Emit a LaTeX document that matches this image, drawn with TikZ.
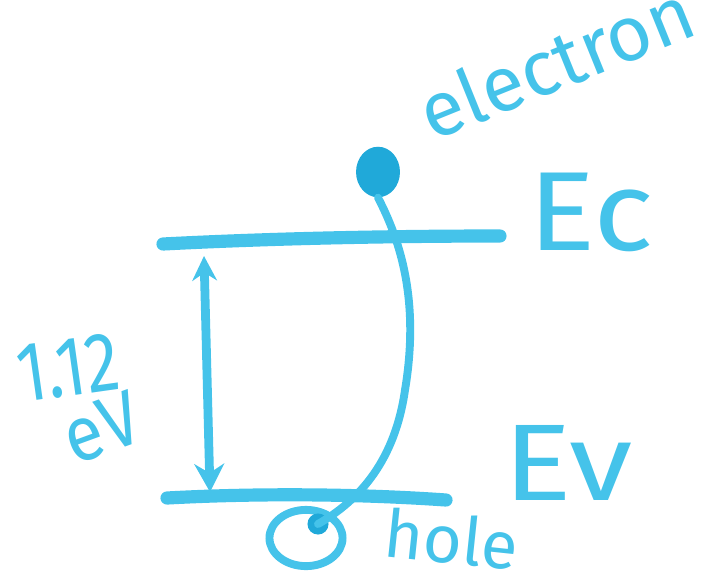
\documentclass[tikz,border=0pt]{standalone}
\usepackage{fontspec}
\setmainfont{Fira Sans}
\usetikzlibrary{arrows.meta}
\definecolor{marker}{HTML}{45C3EA}
\definecolor{markerdark}{HTML}{20A9D9}
\tikzset{
  level/.style={draw=marker, line width=7.5pt, line cap=round},
  pen/.style={draw=marker, line width=5pt, line cap=round},
  lbl/.style={text=marker, inner sep=0pt},
}
\begin{document}
\begin{tikzpicture}[x=0.02cm,y=-0.02cm]
\useasboundingbox (0,0) rectangle (722,571);
\clip (0,0) rectangle (722,571);
% levels
\coordinate (ecL) at (163,244);
\coordinate (ecR) at (500,236);
\coordinate (evL) at (167,498);
\coordinate (evR) at (446,500);
\draw[level] (ecL) .. controls (280,238) and (400,236) .. (ecR);
\draw[level] (evL) .. controls (260,493) and (360,494) .. (evR);
% labels
\node[lbl, font=\fontsize{64}{64}\selectfont, anchor=base west, xscale=1.12] (ec) at (528,250) {Ec};
\node[lbl, font=\fontsize{62}{62}\selectfont, anchor=base west, xscale=1.18] (ev) at (503,500) {Ev};
% gap arrow
\coordinate (gt) at (204,256);
\coordinate (gb) at (210,492);
\draw[pen, {Stealth[length=14pt,width=14pt]}-{Stealth[length=16pt,width=17pt]}] (gt) -- (gb);
\node[lbl, font=\fontsize{48}{48}\selectfont, rotate=8, xscale=0.8] (gap) at (68,368) {1.12};
\node[lbl, font=\fontsize{44}{44}\selectfont, rotate=20, xscale=0.9] (gapu) at (102,428) {eV};
% electron
\node[fill=markerdark, circle, minimum size=25pt, inner sep=0pt, yscale=1.15] (el) at (378,172) {};
% hole
\node[draw=marker, line width=4.5pt, circle, minimum size=32pt, inner sep=0pt, xscale=1.3] (hole) at (306,538) {};
\node[fill=markerdark, circle, minimum size=12pt, inner sep=0pt] (hc) at (318,524) {};
% transition path
\draw[pen, line width=4.5pt] (el.south) .. controls (400,240) and (420,300) .. (405,390)
  .. controls (395,460) and (360,500) .. (hc.center);
% words
\node[lbl, font=\fontsize{44}{44}\selectfont, rotate=22, anchor=base west] (etext) at (432,142) {electron};
\node[lbl, font=\fontsize{38}{38}\selectfont, rotate=-6, anchor=base west] (htext) at (382,556) {hole};
\end{tikzpicture}
\end{document}
